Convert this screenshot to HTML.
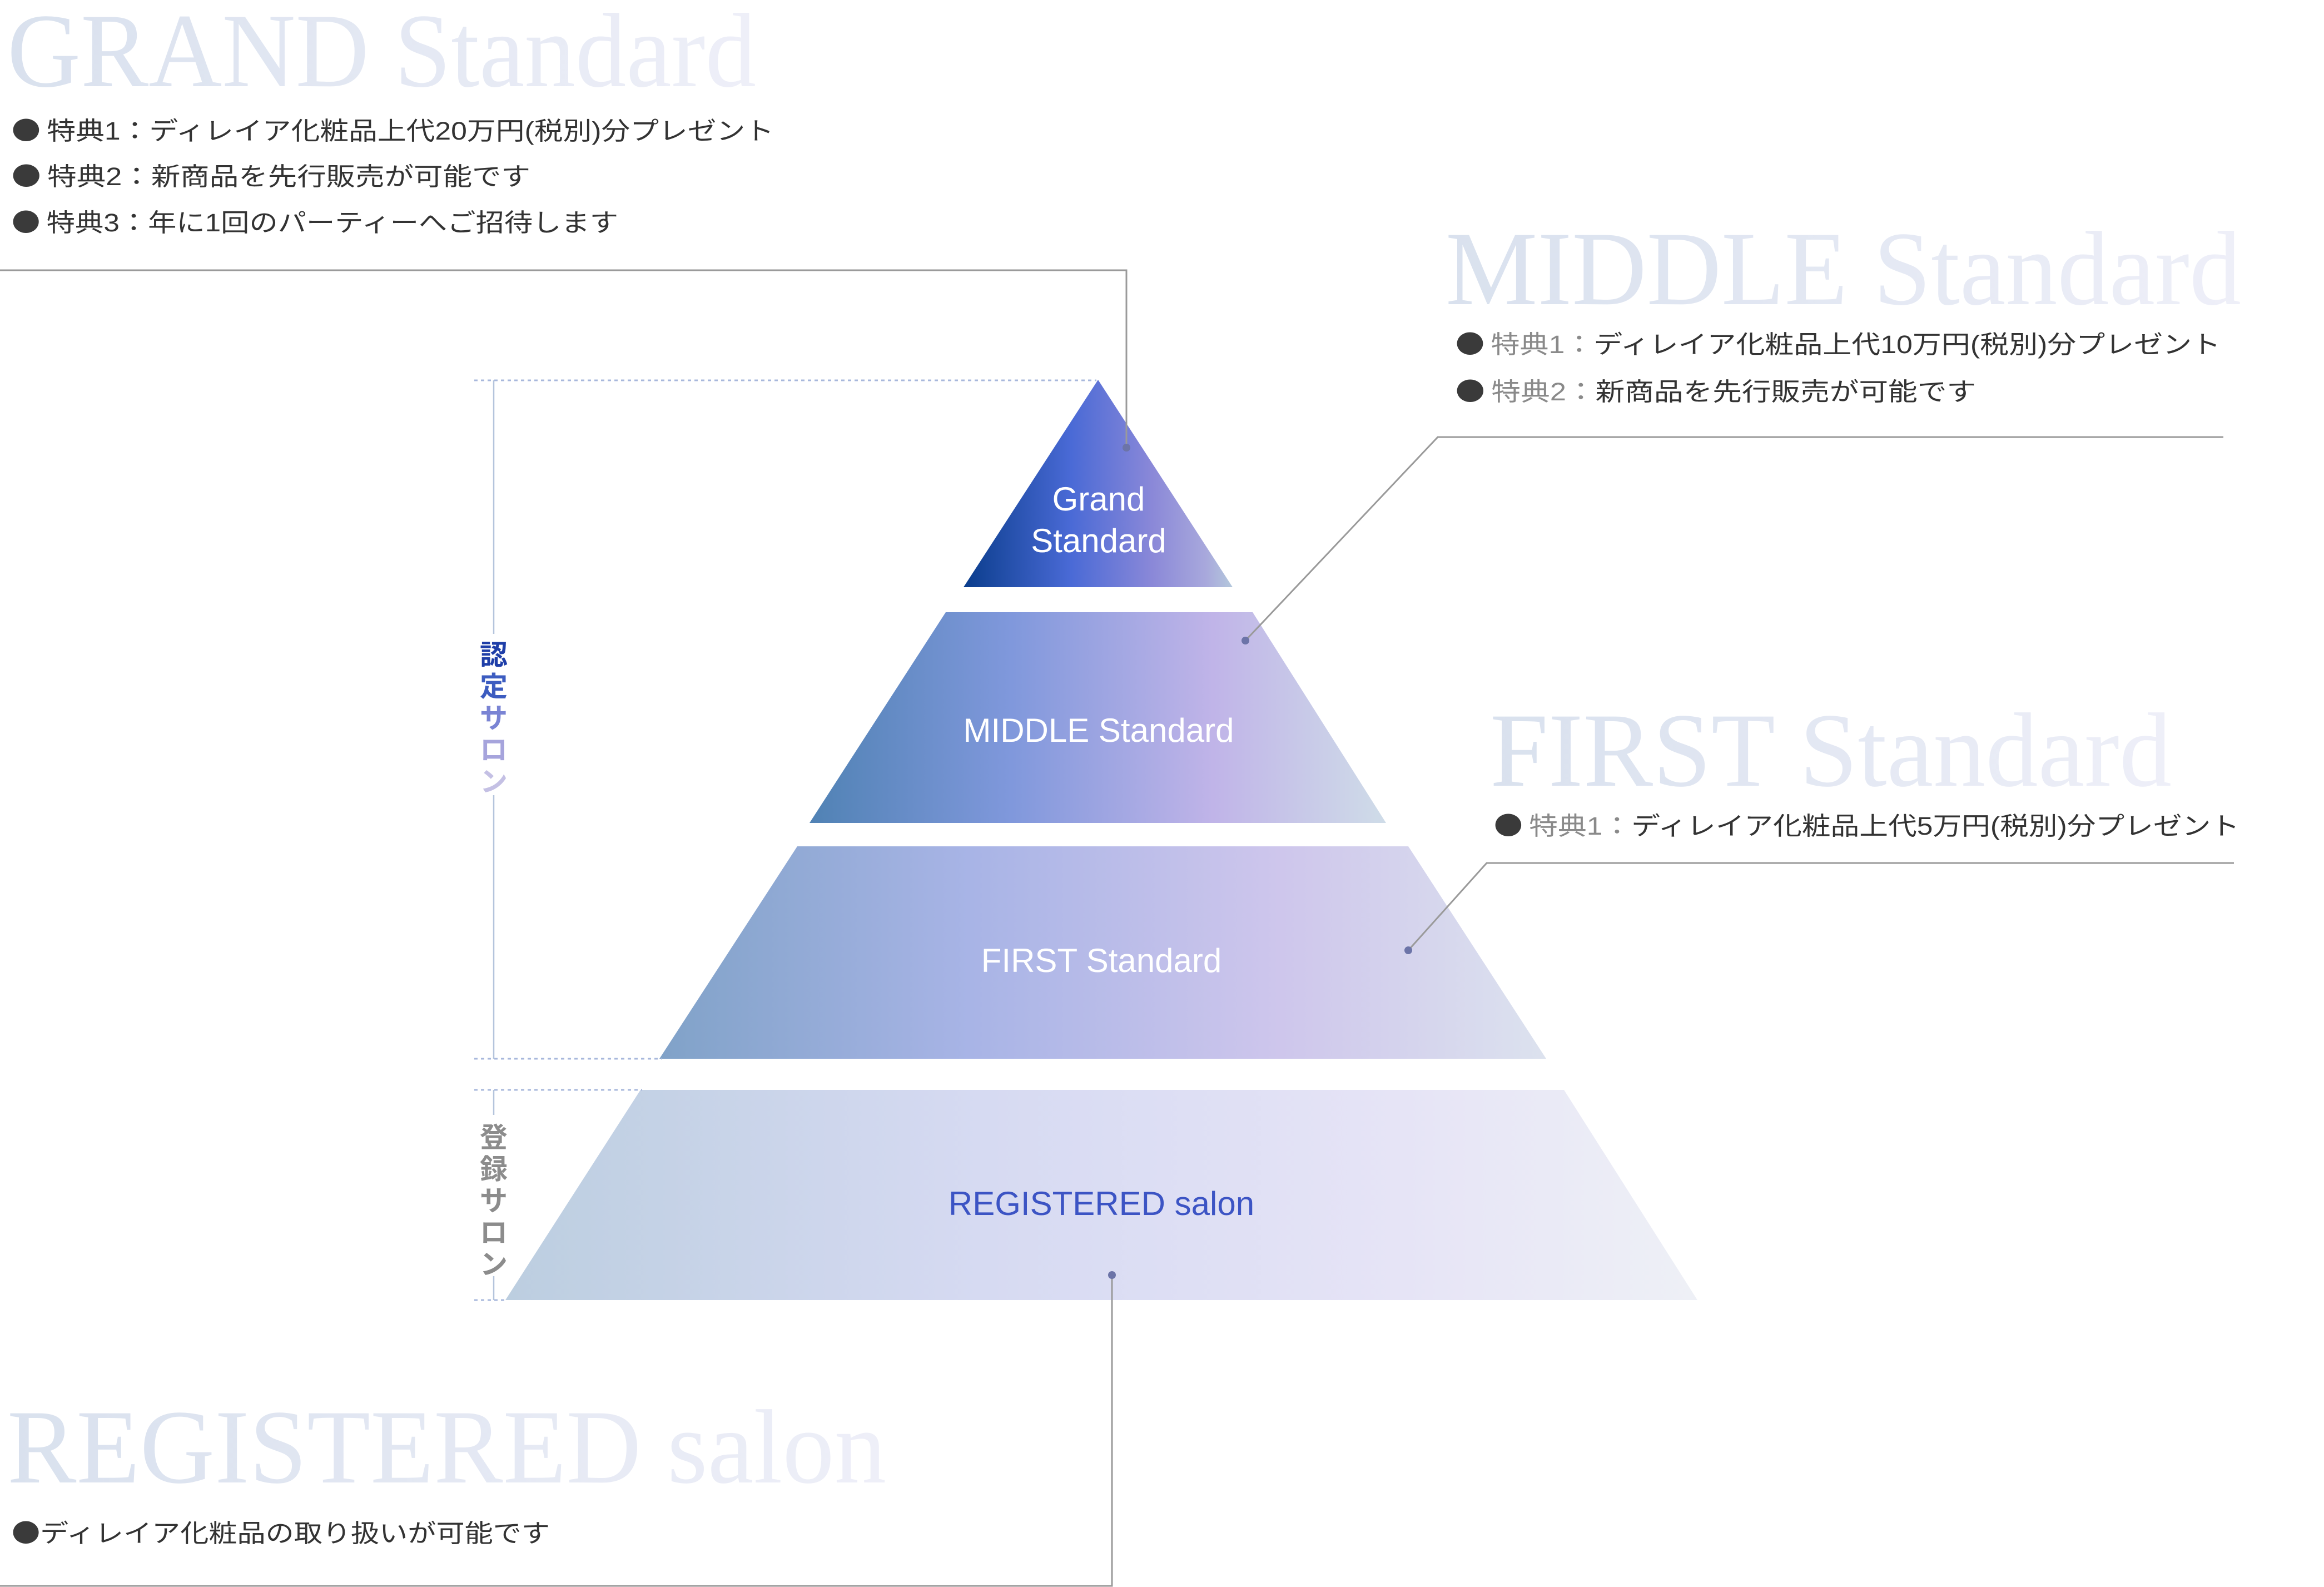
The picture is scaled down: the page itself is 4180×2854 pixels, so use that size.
<!DOCTYPE html>
<html><head><meta charset="utf-8"><style>
html,body{margin:0;padding:0;background:#fff;}
svg{display:block;}
.t{font-family:"Liberation Serif",serif;font-size:190px;}
.b{font-family:"Liberation Sans","Noto Sans CJK JP",sans-serif;font-size:45px;fill:#333;}
.d{font-family:"Noto Sans CJK JP",sans-serif;fill:#3a3a3a;}
.g{fill:#8a8a8a;}
.lab{font-family:"Liberation Sans","Noto Sans CJK JP",sans-serif;font-size:60px;fill:#fff;text-anchor:middle;}
.v{font-family:"Liberation Sans","Noto Sans CJK JP",sans-serif;font-size:50px;font-weight:bold;text-anchor:middle;}
</style></head><body>
<svg width="4180" height="2854" viewBox="0 0 4180 2854" xmlns="http://www.w3.org/2000/svg">
<defs>
<linearGradient id="tg" x1="0" x2="1" y1="0" y2="0"><stop offset="0" stop-color="#d9e1ee"/><stop offset="1" stop-color="#eeeff8"/></linearGradient>
<linearGradient id="gG" x1="0" x2="1"><stop offset="0" stop-color="#0a3d8c"/><stop offset="0.4" stop-color="#4a6ad6"/><stop offset="0.7" stop-color="#8a88d8"/><stop offset="0.9" stop-color="#a8a8dc"/><stop offset="1" stop-color="#b4c8dc"/></linearGradient>
<linearGradient id="gM" x1="0" x2="1"><stop offset="0" stop-color="#5082b4"/><stop offset="0.35" stop-color="#8098dc"/><stop offset="0.7" stop-color="#c0b4e8"/><stop offset="1" stop-color="#cfdce8"/></linearGradient>
<linearGradient id="gF" x1="0" x2="1"><stop offset="0" stop-color="#80a2c8"/><stop offset="0.35" stop-color="#a8b4e6"/><stop offset="0.7" stop-color="#cec6ec"/><stop offset="1" stop-color="#dce2ee"/></linearGradient>
<linearGradient id="gR" x1="0" x2="1"><stop offset="0" stop-color="#bccee0"/><stop offset="0.4" stop-color="#d6daf2"/><stop offset="0.75" stop-color="#e6e4f6"/><stop offset="1" stop-color="#eef0f6"/></linearGradient>
</defs>

<text class="t" x="13" y="155" textLength="1347" lengthAdjust="spacingAndGlyphs" fill="url(#tg)">GRAND Standard</text>
<text class="t" x="2600" y="547" textLength="1431" lengthAdjust="spacingAndGlyphs" fill="url(#tg)">MIDDLE Standard</text>
<text class="t" x="2680" y="1413" textLength="1226" lengthAdjust="spacingAndGlyphs" fill="url(#tg)">FIRST Standard</text>
<text class="t" x="13" y="2666" textLength="1581" lengthAdjust="spacingAndGlyphs" fill="url(#tg)">REGISTERED salon</text>

<text class="b" x="21" y="251" textLength="1371" lengthAdjust="spacingAndGlyphs"><tspan class="d">● </tspan>特典1：ディレイア化粧品上代20万円(税別)分プレゼント</text>
<text class="b" x="21" y="333" textLength="933" lengthAdjust="spacingAndGlyphs"><tspan class="d">● </tspan>特典2：新商品を先行販売が可能です</text>
<text class="b" x="21" y="416" textLength="1091" lengthAdjust="spacingAndGlyphs"><tspan class="d">● </tspan>特典3：年に1回のパーティーへご招待します</text>
<text class="b" x="2618" y="635" textLength="1376" lengthAdjust="spacingAndGlyphs"><tspan class="d">● </tspan><tspan class="g">特典1：</tspan>ディレイア化粧品上代10万円(税別)分プレゼント</text>
<text class="b" x="2618" y="720" textLength="936" lengthAdjust="spacingAndGlyphs"><tspan class="d">● </tspan><tspan class="g">特典2：</tspan>新商品を先行販売が可能です</text>
<text class="b" x="2687" y="1501" textLength="1341" lengthAdjust="spacingAndGlyphs"><tspan class="d">● </tspan><tspan class="g">特典1：</tspan>ディレイア化粧品上代5万円(税別)分プレゼント</text>
<text class="b" x="21" y="2773" textLength="968" lengthAdjust="spacingAndGlyphs"><tspan class="d">●</tspan>ディレイア化粧品の取り扱いが可能です</text>

<polygon points="1975,683 1733,1056 2217,1056" fill="url(#gG)"/>
<polygon points="1701,1101 2253,1101 2493,1480 1456,1480" fill="url(#gM)"/>
<polygon points="1434,1522 2533,1522 2781,1904 1186,1904" fill="url(#gF)"/>
<polygon points="1152,1960 2813,1960 3053,2338 909,2338" fill="url(#gR)"/>

<text class="lab" x="1976" y="918">Grand</text>
<text class="lab" x="1976" y="993">Standard</text>
<text class="lab" x="1976" y="1334" font-size="58">MIDDLE Standard</text>
<text class="lab" x="1981" y="1748" font-size="58" fill="#f4f4fa">FIRST Standard</text>
<text class="lab" x="1981" y="2185" font-size="58" style="fill:#3c54c4">REGISTERED salon</text>

<g stroke="#a8b8dc" stroke-width="3" stroke-dasharray="6,6" fill="none">
<line x1="853" y1="684" x2="1972" y2="684"/>
<line x1="853" y1="1904" x2="1190" y2="1904"/>
<line x1="853" y1="1960" x2="1155" y2="1960"/>
<line x1="853" y1="2338" x2="912" y2="2338"/>
</g>
<g stroke="#b4c4dc" stroke-width="2.5">
<line x1="888" y1="684" x2="888" y2="1140"/>
<line x1="888" y1="1430" x2="888" y2="1904"/>
<line x1="888" y1="1960" x2="888" y2="2005"/>
<line x1="888" y1="2295" x2="888" y2="2338"/>
</g>
<text class="v" x="888" y="1195" fill="#1e3ea8">認</text>
<text class="v" x="888" y="1252" fill="#3c5cc0">定</text>
<text class="v" x="888" y="1309" fill="#7a84d4">サ</text>
<text class="v" x="888" y="1366" fill="#a6a4dc">ロ</text>
<text class="v" x="888" y="1423" fill="#c4c0e4">ン</text>
<g fill="#8c8c8c">
<text class="v" x="888" y="2063">登</text>
<text class="v" x="888" y="2120">録</text>
<text class="v" x="888" y="2177">サ</text>
<text class="v" x="888" y="2234">ロ</text>
<text class="v" x="888" y="2291">ン</text>
</g>

<g stroke="#9a9a9a" stroke-width="3" fill="none">
<polyline points="0,486 2026,486 2026,805"/>
<polyline points="2240,1152 2586,786 3999,786"/>
<polyline points="2533,1709 2674,1552 4018,1552"/>
<polyline points="2000,2293 2000,2852 0,2852"/>
</g>
<g fill="#6c74a8">
<circle cx="2026" cy="805" r="7"/>
<circle cx="2240" cy="1152" r="7"/>
<circle cx="2533" cy="1709" r="7"/>
<circle cx="2000" cy="2293" r="7"/>
</g>
</svg>
</body></html>
